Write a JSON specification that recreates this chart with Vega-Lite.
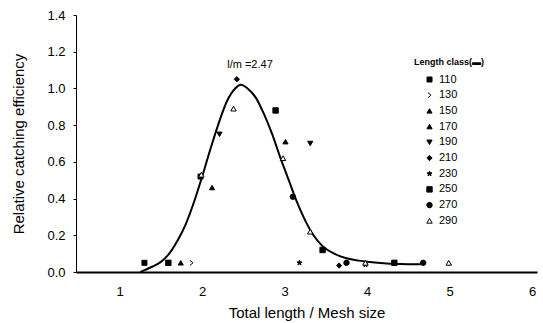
{
  "$schema": "https://vega.github.io/schema/vega-lite/v6.json",
  "width": 461,
  "height": 257,
  "autosize": {"type": "none"},
  "padding": {"left": 76, "top": 15, "right": 6, "bottom": 51},
  "background": "white",
  "config": {
    "view": {"stroke": null},
    "font": "Liberation Sans",
    "axis": {"grid": false, "domainColor": "black", "tickColor": "black", "labelColor": "black", "titleColor": "black", "titleFontWeight": "normal"}
  },
  "datasets": {
    "points": [
      {"cls": "110", "ratio": 1.30, "eff": 0.05},
      {"cls": "110", "ratio": 1.98, "eff": 0.52},
      {"cls": "130", "ratio": 1.87, "eff": 0.05},
      {"cls": "150", "ratio": 1.74, "eff": 0.05},
      {"cls": "150", "ratio": 2.12, "eff": 0.46},
      {"cls": "170", "ratio": 3.01, "eff": 0.71},
      {"cls": "190", "ratio": 2.21, "eff": 0.75},
      {"cls": "190", "ratio": 3.31, "eff": 0.70},
      {"cls": "210", "ratio": 2.42, "eff": 1.05},
      {"cls": "210", "ratio": 3.66, "eff": 0.035},
      {"cls": "230", "ratio": 3.18, "eff": 0.05},
      {"cls": "230", "ratio": 3.98, "eff": 0.04},
      {"cls": "250", "ratio": 1.59, "eff": 0.05},
      {"cls": "250", "ratio": 2.89, "eff": 0.88},
      {"cls": "250", "ratio": 3.46, "eff": 0.12},
      {"cls": "250", "ratio": 4.33, "eff": 0.05},
      {"cls": "270", "ratio": 3.10, "eff": 0.41},
      {"cls": "270", "ratio": 3.75, "eff": 0.05},
      {"cls": "270", "ratio": 4.68, "eff": 0.05},
      {"cls": "290", "ratio": 1.99, "eff": 0.53},
      {"cls": "290", "ratio": 2.38, "eff": 0.89},
      {"cls": "290", "ratio": 2.98, "eff": 0.62},
      {"cls": "290", "ratio": 3.31, "eff": 0.22},
      {"cls": "290", "ratio": 3.98, "eff": 0.05},
      {"cls": "290", "ratio": 4.99, "eff": 0.05}
    ],
    "curve": [
      {"ratio": 1.25, "eff": 0.0},
      {"ratio": 1.3, "eff": 0.01},
      {"ratio": 1.4, "eff": 0.03},
      {"ratio": 1.5, "eff": 0.055},
      {"ratio": 1.6, "eff": 0.10},
      {"ratio": 1.7, "eff": 0.17},
      {"ratio": 1.8, "eff": 0.26},
      {"ratio": 1.9, "eff": 0.38},
      {"ratio": 2.0, "eff": 0.52},
      {"ratio": 2.1, "eff": 0.67},
      {"ratio": 2.2, "eff": 0.81},
      {"ratio": 2.3, "eff": 0.93},
      {"ratio": 2.4, "eff": 1.0},
      {"ratio": 2.47, "eff": 1.02},
      {"ratio": 2.55, "eff": 1.0},
      {"ratio": 2.65, "eff": 0.95},
      {"ratio": 2.75, "eff": 0.86},
      {"ratio": 2.85, "eff": 0.75},
      {"ratio": 2.95, "eff": 0.62},
      {"ratio": 3.05, "eff": 0.50},
      {"ratio": 3.15, "eff": 0.38},
      {"ratio": 3.25, "eff": 0.28},
      {"ratio": 3.35, "eff": 0.20},
      {"ratio": 3.45, "eff": 0.145},
      {"ratio": 3.6, "eff": 0.10},
      {"ratio": 3.75, "eff": 0.075},
      {"ratio": 3.9, "eff": 0.062},
      {"ratio": 4.0, "eff": 0.056},
      {"ratio": 4.2, "eff": 0.048},
      {"ratio": 4.4, "eff": 0.044},
      {"ratio": 4.65, "eff": 0.042}
    ],
    "note": [
      {"text": "l/m =2.47", "ratio": 2.58, "eff": 1.13}
    ]
  },
  "encoding": {
    "x": {
      "field": "ratio", "type": "quantitative",
      "scale": {"domain": [0.47, 6.06], "nice": false, "zero": false},
      "axis": {"title": "Total length / Mesh size", "values": [1, 2, 3, 4, 5, 6], "format": "d",
               "ticks": false, "labelPadding": 13, "labelFontSize": 13, "titleFontSize": 15,
               "titlePadding": 7, "domainWidth": 2}
    },
    "y": {
      "field": "eff", "type": "quantitative",
      "scale": {"domain": [0, 1.4], "nice": false},
      "axis": {"title": "Relative catching efficiency", "values": [0, 0.2, 0.4, 0.6, 0.8, 1.0, 1.2, 1.4],
               "format": ".1f", "tickSize": 3, "labelPadding": 8, "labelFontSize": 13,
               "titleFontSize": 15, "titlePadding": 20, "domainWidth": 1}
    }
  },
  "layer": [
    {
      "data": {"name": "curve"},
      "mark": {"type": "line", "color": "black", "strokeWidth": 2, "interpolate": "monotone"}
    },
    {
      "data": {"name": "points"},
      "mark": {"type": "point", "filled": true, "stroke": "black", "strokeWidth": 1, "opacity": 1},
      "encoding": {
        "shape": {
          "field": "cls", "type": "nominal",
          "scale": {
            "domain": ["110", "130", "150", "170", "190", "210", "230", "250", "270", "290"],
            "range": ["square", "M-0.6,-1L0.6,0L-0.6,1", "triangle-up", "triangle-up", "triangle-down", "diamond",
                      "M0,-1L0.24,-0.33L0.95,-0.31L0.38,0.12L0.59,0.81L0,0.4L-0.59,0.81L-0.38,0.12L-0.95,-0.31L-0.24,-0.33Z",
                      "square", "circle", "triangle-up"]
          },
          "legend": {
            "title": "Length class(▬)", "orient": "none", "legendX": 338, "legendY": 43,
            "titleFontSize": 9, "titleFontWeight": "bold", "titleColor": "black", "titleAnchor": "start",
            "titlePadding": 7, "symbolOffset": 10,
            "labelFontSize": 11, "labelColor": "black", "rowPadding": 3.7, "symbolStrokeWidth": 1,
            "symbolStrokeColor": "black"
          }
        },
        "fill": {
          "field": "cls", "type": "nominal",
          "scale": {
            "domain": ["110", "130", "150", "170", "190", "210", "230", "250", "270", "290"],
            "range": ["black", "transparent", "black", "black", "black", "black", "black", "black", "black", "white"]
          }
        },
        "size": {
          "field": "cls", "type": "nominal",
          "scale": {
            "domain": ["110", "130", "150", "170", "190", "210", "230", "250", "270", "290"],
            "range": [25, 30, 35, 35, 35, 30, 30, 55, 40, 35]
          }
        }
      }
    },
    {
      "data": {"name": "note"},
      "mark": {"type": "text", "fontSize": 11, "color": "black", "align": "center", "baseline": "middle"},
      "encoding": {"text": {"field": "text"}}
    }
  ]
}
